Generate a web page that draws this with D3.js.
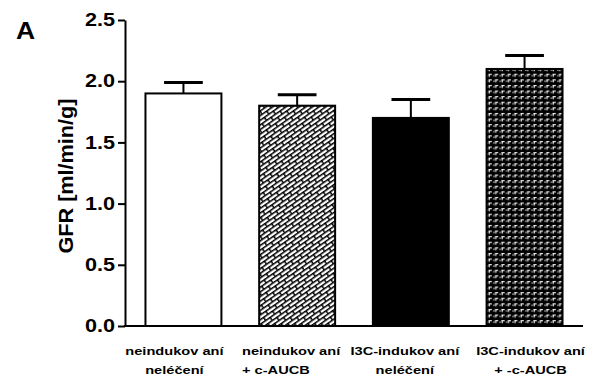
<!DOCTYPE html>
<html>
<head>
<meta charset="utf-8">
<script src="https://cdn.jsdelivr.net/npm/d3@7"></script>
<style>
  body { margin: 0; background: #fff; }
  svg { display: block; }
  text { font-family: "Liberation Sans", Arial, sans-serif; font-weight: bold; fill: #000; }
</style>
</head>
<body>
<svg id="chart" width="598" height="376"></svg>
<script>
// Groups (two-line category labels), mean GFR and SEM
const groupIds = ["neind-nelec", "neind-aucb", "i3c-nelec", "i3c-aucb"];
const labelLines = [
  ["neindukov aní", "neléčení"],
  ["neindukov aní", "+ c-AUCB"],
  ["I3C-indukov aní", "neléčení"],
  ["I3C-indukov aní", "+ -c-AUCB"]
];
const gfrMean = [1.90, 1.80, 1.70, 2.10];
const gfrSem = [0.09, 0.09, 0.15, 0.11];
const yTicks = [0.0, 0.5, 1.0, 1.5, 2.0, 2.5];
const yTitle = "GFR [ml/min/g]";
const panelLetter = "A";

const svg = d3.select("#chart");

// widen glyphs horizontally (the figure's typeface runs wide)
function widen(sel, k) {
  sel.each(function () {
    const w = this.getComputedTextLength();
    d3.select(this).attr("textLength", w * k).attr("lengthAdjust", "spacingAndGlyphs");
  });
}

// ---- fill patterns ----
const defs = svg.append("defs");

const brick = defs.append("pattern")
  .attr("id", "brick").attr("patternUnits", "userSpaceOnUse")
  .attr("width", 11).attr("height", 7.6)
  .attr("patternTransform", "rotate(-35)");
brick.append("rect").attr("width", 11).attr("height", 7.6).attr("fill", "#fff");
brick.append("rect").attr("x", 0).attr("y", 0).attr("width", 11).attr("height", 1.5).attr("fill", "#000");
brick.append("rect").attr("x", 0).attr("y", 3.8).attr("width", 11).attr("height", 1.5).attr("fill", "#000");
brick.append("rect").attr("x", 0).attr("y", 0).attr("width", 1.5).attr("height", 3.8).attr("fill", "#000");
brick.append("rect").attr("x", 5.5).attr("y", 3.8).attr("width", 1.5).attr("height", 3.8).attr("fill", "#000");

const corner = defs.append("pattern")
  .attr("id", "corner").attr("patternUnits", "userSpaceOnUse")
  .attr("width", 6.4).attr("height", 5.6);
corner.append("rect").attr("width", 6.4).attr("height", 5.6).attr("fill", "#000");
corner.append("rect").attr("x", 2.4).attr("y", 1).attr("width", 3).attr("height", 1.1).attr("fill", "#fff");
corner.append("rect").attr("x", 2.4).attr("y", 1).attr("width", 1.1).attr("height", 3).attr("fill", "#fff");
corner.append("rect").attr("x", 0.3).attr("y", 2.4).attr("width", 1.3).attr("height", 1).attr("fill", "#fff");

const barFills = ["#fff", "url(#brick)", "#000", "url(#corner)"];

// ---- scales ----
const x = d3.scaleBand().domain(groupIds).range([125, 583])
  .paddingInner(0.332).paddingOuter(0.18);
const y = d3.scaleLinear().domain([0, 2.5]).range([326, 20]);

// ---- error bars ----
const capW = x.bandwidth() * 0.51;
const err = svg.append("g");
groupIds.forEach((id, i) => {
  const cx = x(id) + x.bandwidth() / 2;
  err.append("line")
    .attr("x1", cx).attr("x2", cx)
    .attr("y1", y(gfrMean[i])).attr("y2", y(gfrMean[i] + gfrSem[i]))
    .attr("stroke", "#000").attr("stroke-width", 2);
  err.append("line")
    .attr("x1", cx - capW / 2).attr("x2", cx + capW / 2)
    .attr("y1", y(gfrMean[i] + gfrSem[i])).attr("y2", y(gfrMean[i] + gfrSem[i]))
    .attr("stroke", "#000").attr("stroke-width", 3);
});

// ---- bars ----
svg.append("g").selectAll("rect")
  .data(groupIds)
  .join("rect")
  .attr("x", d => x(d))
  .attr("width", x.bandwidth())
  .attr("y", (d, i) => y(gfrMean[i]))
  .attr("height", (d, i) => y(0) - y(gfrMean[i]))
  .attr("fill", (d, i) => barFills[i])
  .attr("stroke", "#000")
  .attr("stroke-width", 2);

// ---- y axis ----
const yAxis = svg.append("g")
  .attr("transform", "translate(125,0)")
  .call(d3.axisLeft(y).tickValues(yTicks).tickFormat(d3.format(".1f"))
    .tickSize(7).tickSizeOuter(0).tickPadding(3));
yAxis.select(".domain").attr("stroke-width", 2);
yAxis.selectAll(".tick line").attr("stroke-width", 2);
yAxis.selectAll(".tick text")
  .attr("font-size", 18)
  .attr("font-family", "'Liberation Sans', Arial, sans-serif")
  .attr("font-weight", "bold")
  .call(widen, 1.2);

// ---- x axis baseline ----
svg.append("line")
  .attr("x1", 124).attr("x2", x.range()[1])
  .attr("y1", y(0)).attr("y2", y(0))
  .attr("stroke", "#000").attr("stroke-width", 2);

// ---- category labels ----
const labelShift = [-9, -6, -6, 6];
groupIds.forEach((id, i) => {
  const cx = x(id) + x.bandwidth() / 2 + labelShift[i];
  const l1 = svg.append("text")
    .attr("x", cx).attr("y", 355)
    .attr("text-anchor", "middle").attr("font-size", 11.5)
    .text(labelLines[i][0]);
  widen(l1, 1.27);
  const l2 = svg.append("text").attr("y", 374).attr("font-size", 11.5).text(labelLines[i][1]);
  if (i === 1) {
    const left = cx - l1.node().textLength.baseVal.value / 2;
    l2.attr("x", left).attr("text-anchor", "start");
  } else {
    l2.attr("x", cx).attr("text-anchor", "middle");
  }
  widen(l2, 1.27);
});

// ---- y axis title ----
const yt = svg.append("text")
  .attr("transform", "translate(73,176) rotate(-90)")
  .attr("text-anchor", "middle")
  .attr("font-size", 20)
  .text(yTitle);
yt.attr("textLength", 155).attr("lengthAdjust", "spacingAndGlyphs");

// ---- panel letter ----
const pl = svg.append("text")
  .attr("x", 16).attr("y", 38.5)
  .attr("font-size", 23)
  .text(panelLetter);
widen(pl, 1.15);
</script>
</body>
</html>
